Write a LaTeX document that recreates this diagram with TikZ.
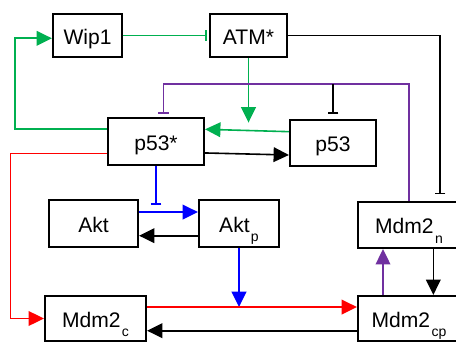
\documentclass[tikz,border=0pt]{standalone}
\usepackage{fontspec}
\setmainfont{Liberation Sans}
\usetikzlibrary{arrows.meta}
\definecolor{cgreen}{HTML}{00B050}
\definecolor{cred}{HTML}{FF0000}
\definecolor{cblue}{HTML}{0000FF}
\definecolor{cpurple}{HTML}{7030A0}
\newcommand\sbs[1]{\kern1pt\raisebox{-7pt}[0pt][0pt]{\fontsize{10.5}{10.5}\selectfont #1}}
\tikzset{
  box/.style={draw=black, line width=1.6pt, fill=white, inner sep=0pt,
    text height=13.4pt, text depth=0pt, font=\fontsize{15.8}{18}\selectfont},
  conn/.style={line width=1.2pt},
  act/.style={conn, -{Triangle[length=11.5pt,width=11pt]}},
  inh/.style={conn, -{Bar[width=8pt]}},
}
\begin{document}
\begin{tikzpicture}[x=0.75pt, y=-0.75pt]
\useasboundingbox (0,0) rectangle (456,342);
\clip (0,0) rectangle (456,342);
\fill[white] (0,0) rectangle (456,342);
% nodes
\node[box, minimum width=51.75pt, minimum height=32.25pt] (wip) at (87.5,35.5) {Wip1};
\node[box, minimum width=57.75pt, minimum height=32.25pt] (atm) at (248.5,35.5) {ATM*};
\node[box, minimum width=72pt, minimum height=35.25pt] (p53s) at (156,141.5) {p53*};
\node[box, minimum width=64.5pt, minimum height=34.5pt] (p53) at (333,143) {p53};
\node[box, minimum width=66.75pt, minimum height=35.25pt] (akt) at (93.5,223.5) {Akt};
\node[box, minimum width=60pt, minimum height=35.25pt] (aktp) at (239,223.5) {Akt\sbs{p}};
\node[box, minimum width=76.5pt, minimum height=34.5pt] (mdmn) at (409,225) {Mdm2\sbs{n}};
\node[box, minimum width=75.75pt, minimum height=33.75pt] (mdmc) at (95.5,318.5) {Mdm2\sbs{c}};
\node[box, minimum width=76.5pt, minimum height=33.75pt] (mdmcp) at (409,318.5) {Mdm2\sbs{cp}};
% connectors
\draw[inh, cgreen, shorten >=1.5pt] (wip.east) -- (atm.west);
\draw[inh, black, shorten >=5pt] (atm.east) -| ([xshift=23.25pt]mdmn.north);
\draw[act, cgreen] (atm.south) -- ++(0,64.5) coordinate (gtip);
\draw[act, cgreen] ([yshift=8.5pt]p53.west) -- ([yshift=9.15pt]p53s.east);
\draw[act, black] ([yshift=-8.6pt]p53s.east) -- ([yshift=-9pt]p53.west);
\draw[act, cgreen] ([yshift=9.15pt]p53s.west) -- ++(-92,0) |- ([yshift=-2.1pt]wip.west);
\draw[act, cred] ([yshift=-8.85pt]p53s.west) -- ++(-96.5,0) |- (mdmc.west);
\draw[inh, cpurple, shorten >=2.25pt] (mdmn.north) -- ++(0,-117) coordinate (pc) -| ([xshift=5.5pt]p53s.north);
\draw[inh, black, shorten >=3.75pt] (pc -| p53.north) -- (p53.north);
\draw[inh, cblue] (p53s.south) -- ++(0,39);
\draw[act, cblue] ([yshift=8.6pt]akt.east) -- ([yshift=8.6pt]aktp.west);
\draw[act, black] ([yshift=-9.15pt]aktp.west) -- ([yshift=-9.15pt]akt.east);
\draw[act, cblue] (aktp.south) -- ++(0,59);
\draw[act, cred] ([yshift=8.6pt]mdmc.east) -- ([yshift=8.6pt]mdmcp.west);
\draw[act, black] ([yshift=-9.15pt]mdmcp.west) -- ([yshift=-9.15pt]mdmc.east);
\draw[act, cpurple] ([xshift=-19.5pt]mdmcp.north) -- ([xshift=-19.5pt]mdmn.south);
\draw[act, black] ([xshift=18.25pt]mdmn.south) -- ([xshift=18.25pt]mdmcp.north);
\end{tikzpicture}
\end{document}
